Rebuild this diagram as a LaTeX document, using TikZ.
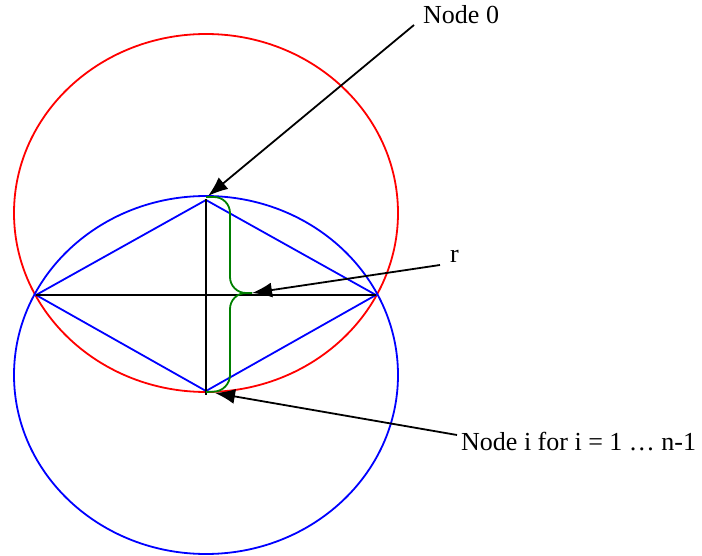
\documentclass[tikz,border=0pt]{standalone}
\usepackage{fontspec}
\setmainfont{Liberation Serif}
\usetikzlibrary{arrows.meta, positioning, calc}
\definecolor{bracegreen}{RGB}{0,128,0}
\tikzset{
  ring/.style  = {line width=1.8pt},
  edge/.style  = {draw, line width=1.8pt},
  brace/.style = {draw=bracegreen, line width=1.8pt, rounded corners=16pt},
  arr/.style   = {-{Latex[length=20pt, width=15pt]}, line width=1.8pt},
  lbl/.style   = {font=\fontsize{26}{30}\selectfont, inner sep=0pt, anchor=base west}
}

\begin{document}
\begin{tikzpicture}[x=1pt, y=-1pt]
  \useasboundingbox (0,0) rectangle (702,556);

  % ── Circles ───────────────────────────────────────────────────────────────
  \draw[ring, red]  (206,213) ellipse [x radius=192, y radius=179];
  \draw[ring, blue] (206,375) ellipse [x radius=192, y radius=179];

  % ── Points ────────────────────────────────────────────────────────────────
  \coordinate (Top)   at (206,197);   % node 0
  \coordinate (Bot)   at (206,392);   % node i
  \coordinate (Left)  at (36,295);
  \coordinate (Right) at (376,295);
  \coordinate (Tip)   at (252,293);   % brace tip

  % ── Diamond and axes ──────────────────────────────────────────────────────
  \draw[edge, blue] (Left) -- (206,200) -- (Right) -- (206,391) -- cycle;
  \draw[edge] (Left) -- (Right);
  \draw[edge] (206,199) -- (206,395);

  % ── Brace (r) ─────────────────────────────────────────────────────────────
  \draw[brace] (Top) -- (230,197) -- (230,293) -- (Tip);
  \draw[brace] (Tip) -- (230,293) -- (230,391) -- (Bot);

  % ── Labels ────────────────────────────────────────────────────────────────
  \node[lbl] (L0) at (423,24)  {Node 0};
  \node[lbl] (Lr) at (450,263) {r};
  \node[lbl] (Li) at (461,450) {Node i for i = 1 … n-1};

  \coordinate (S0) at (414,25);
  \coordinate (Sr) at (440,265);
  \coordinate (Si) at (457,435);

  % ── Arrows ────────────────────────────────────────────────────────────────
  \draw[arr] (S0) -- (208,196);
  \draw[arr] (Sr) -- (Tip);
  \draw[arr] (Si) -- (215,393);

\end{tikzpicture}
\end{document}
